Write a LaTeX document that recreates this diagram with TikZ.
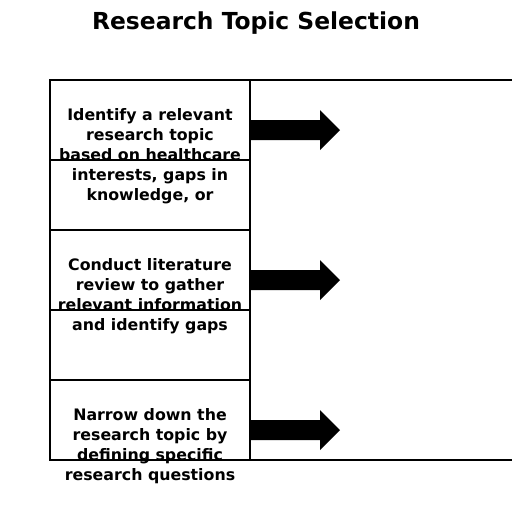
\documentclass[tikz,border=0pt]{standalone}
\usepackage{fontspec}
\setmainfont{DejaVu Sans}
\begin{document}
\begin{tikzpicture}[x=1pt,y=-1pt,
  cell/.style={draw=black,line width=1.6pt},
  edge/.style={draw=black,line width=1.6pt},
  steptext/.style={anchor=north,align=center,inner sep=0pt,
    font=\fontsize{15.8}{20}\selectfont\bfseries},
  blockarrow/.style={fill=black}]
\useasboundingbox (0,0) rectangle (512,512);
\node[anchor=base,inner sep=0pt,font=\fontsize{23.4}{26}\selectfont\bfseries] (title) at (256,29) {Research Topic Selection};
% texts
\node[steptext] (t1) at (150,108.5) {Identify a relevant\\research topic\\based on healthcare\\interests, gaps in\\knowledge, or};
\node[steptext] (t2) at (150,258.5) {Conduct literature\\review to gather\\relevant information\\and identify gaps};
\node[steptext] (t3) at (150,408.5) {Narrow down the\\research topic by\\defining specific\\research questions};
% cells
\path[cell] (50,80) rectangle (250,160) node[pos=.5] (c1) {};
\path[cell] (50,160) rectangle (250,230) node[pos=.5] (c2) {};
\path[cell] (50,230) rectangle (250,310) node[pos=.5] (c3) {};
\path[cell] (50,310) rectangle (250,380) node[pos=.5] (c4) {};
\path[cell] (50,380) rectangle (250,460) node[pos=.5] (c5) {};
\coordinate (r1) at (512,80);
\coordinate (r2) at (512,460);
\draw[edge] (50,80) -- (r1);
\draw[edge] (50,460) -- (r2);
% arrows
\coordinate (a1) at (250,130);
\coordinate (a2) at (250,280);
\coordinate (a3) at (250,430);
\foreach \a in {a1,a2,a3}{
  \fill[blockarrow] (\a) ++(0,-10) -- ++(70,0) -- ++(0,-10) -- ++(20,20) -- ++(-20,20) -- ++(0,-10) -- ++(-70,0) -- cycle;
}
\end{tikzpicture}
\end{document}
